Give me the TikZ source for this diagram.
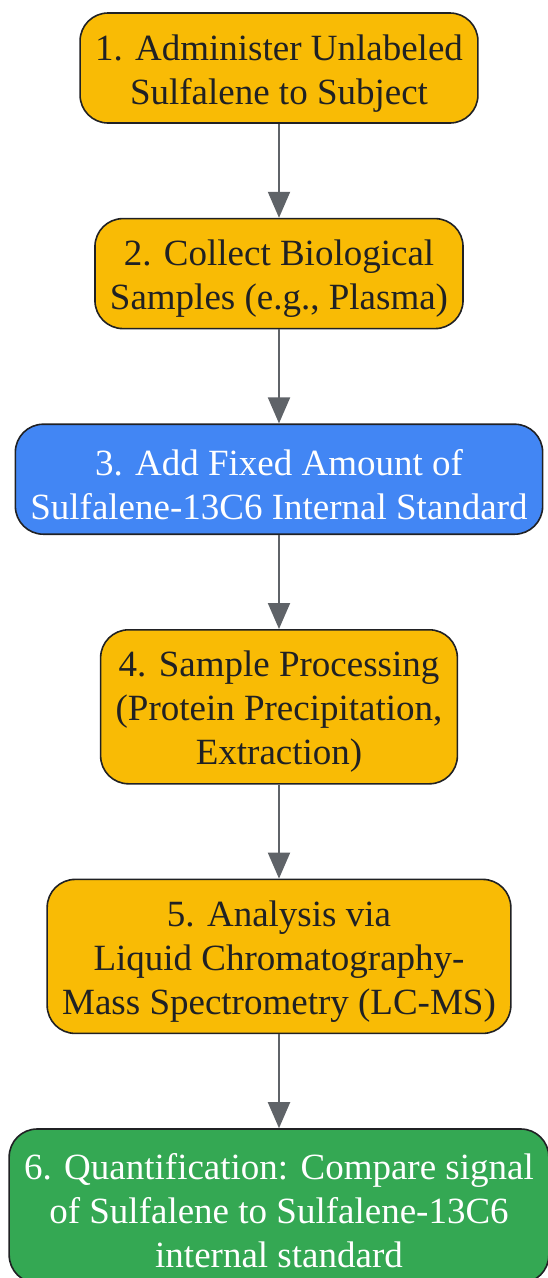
\documentclass[tikz,border=0pt]{standalone}
\usepackage{fontspec}
\newfontfamily\stepfont{Liberation Serif}
\usetikzlibrary{positioning,arrows.meta}
\definecolor{stepyellow}{HTML}{F9BB05}
\definecolor{stepblue}{HTML}{4286F4}
\definecolor{stepgreen}{HTML}{34A853}
\definecolor{boxline}{HTML}{202124}
\definecolor{arrowgray}{HTML}{5F6368}
% pushes the text a little lower in its box
\newcommand\toplift{\rule{0pt}{36pt}}

\begin{document}
\begin{tikzpicture}[x=1pt,y=1pt,node distance=94pt,
    stepbox/.style={draw=boxline, line width=1.6pt, rounded corners=28pt,
        align=center, inner xsep=15pt, minimum height=110pt,
        font=\stepfont\fontsize{37}{44}\selectfont},
    tallbox/.style={stepbox, minimum height=154pt},
    flow/.style={draw=arrowgray, line width=2pt, -{Triangle[length=26pt,width=22pt]}}]
\useasboundingbox (0,0) rectangle (547,-1278);

\node[stepbox, fill=stepyellow, text=boxline] (admin) at (279,-68)
    {\toplift 1. Administer Unlabeled\\Sulfalene to Subject};
\node[stepbox, fill=stepyellow, text=boxline, below=of admin] (collect)
    {\toplift 2. Collect Biological\\Samples (e.g., Plasma)};
\node[stepbox, fill=stepblue, text=white, below=of collect] (spike)
    {\toplift 3. Add Fixed Amount of\\Sulfalene-13C6 Internal Standard};
\node[tallbox, fill=stepyellow, text=boxline, below=of spike] (prep)
    {\toplift 4. Sample Processing\\(Protein Precipitation,\\Extraction)};
\node[tallbox, fill=stepyellow, text=boxline, below=of prep] (lcms)
    {\toplift 5. Analysis via\\Liquid Chromatography-\\Mass Spectrometry (LC-MS)};
\node[tallbox, fill=stepgreen, text=white, below=of lcms] (quant)
    {\toplift 6. Quantification: Compare signal\\of Sulfalene to Sulfalene-13C6\\internal standard};

\draw[flow] (admin) -- (collect);
\draw[flow] (collect) -- (spike);
\draw[flow] (spike) -- (prep);
\draw[flow] (prep) -- (lcms);
\draw[flow] (lcms) -- (quant);
\end{tikzpicture}
\end{document}
